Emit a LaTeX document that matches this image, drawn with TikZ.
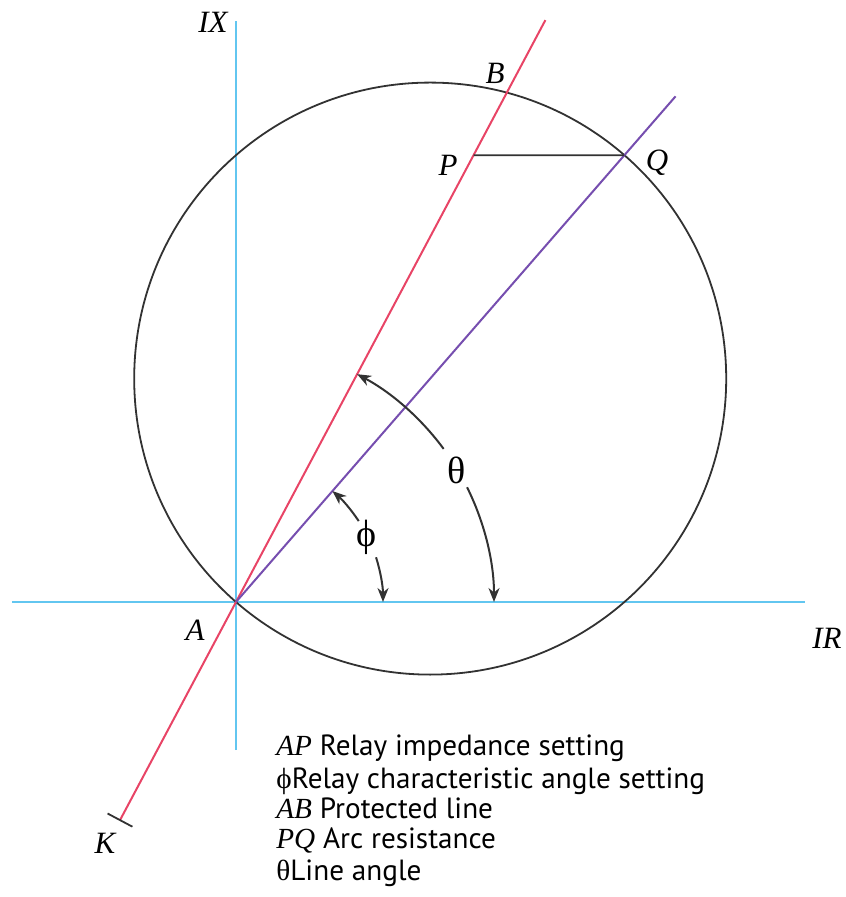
\documentclass[tikz,border=0pt]{standalone}
\usepackage{fontspec}
\setmainfont{Liberation Serif}
\newfontfamily\legfont{PT Sans}
\usetikzlibrary{arrows.meta}
\definecolor{axisblue}{RGB}{98,198,240}
\definecolor{linered}{RGB}{232,68,102}
\definecolor{lineviolet}{RGB}{118,78,175}
\definecolor{circgray}{RGB}{50,50,50}
\begin{document}
\begin{tikzpicture}[x=0.5pt,y=0.5pt,
  axis/.style={draw=axisblue, line width=1.4pt},
  redline/.style={draw=linered, line width=1pt},
  violine/.style={draw=lineviolet, line width=1pt},
  circline/.style={draw=circgray, line width=0.9pt},
  angarrow/.style={draw=circgray, line width=1pt, -{Stealth[length=7pt,width=5.5pt]}},
  lbl/.style={font=\fontsize{15.5}{18}\selectfont\itshape, inner sep=0pt},
  greek/.style={font=\fontsize{19}{20}\selectfont, inner sep=0pt},
  leg/.style={font=\legfont\fontsize{14.6}{16}\selectfont, anchor=base west, inner sep=0pt}]
\useasboundingbox (-236,-295) rectangle (609,602);
% key points
\coordinate (A) at (0,0);
\coordinate (IXtop) at (0,581);
\coordinate (IXbot) at (0,-148);
\coordinate (IRl) at (-224,0);
\coordinate (IRr) at (569,0);
\coordinate (C) at (49:296);
\coordinate (Q) at (49:592);
\coordinate (Vend) at (49:670);
\coordinate (Rtop) at (62:659);
\coordinate (K) at (242:247);
\coordinate (Kt1) at (-128.4,-211.5);
\coordinate (Kt2) at (-103.6,-224.7);
\coordinate (P) at (237.6,446.8);
\coordinate (B) at (62:577);
% axes
\draw[axis] (IXbot) -- (IXtop);
\draw[axis] (IRl) -- (IRr);
% circle
\draw[circline] (C) circle[radius=148pt];
% lines
\draw[redline] (K) -- (Rtop);
\draw[circline] (Kt1) -- (Kt2);
\draw[violine] (A) -- (Vend);
\draw[circline] (P) -- (Q);
% angle arrows
\draw[angarrow] (36.4:258) arc[start angle=36.4, end angle=62, radius=129pt];
\draw[angarrow] (26.4:258) arc[start angle=26.4, end angle=0, radius=129pt];
\draw[angarrow] (33.4:147) arc[start angle=33.4, end angle=49, radius=73.5pt];
\draw[angarrow] (17.7:147) arc[start angle=17.7, end angle=0, radius=73.5pt];
\node[greek] (theta) at (30.8:257) {θ};
\node[greek] (phi) at (26.4:146) {ϕ};
% labels
\node[lbl] (lIX) at (-23,580) {IX};
\node[lbl] (lB) at (259,529) {B};
\node[lbl] (lP) at (212,437) {P};
\node[lbl] (lQ) at (421,439) {Q};
\node[lbl] (lA) at (-41,-28) {A};
\node[lbl] (lIR) at (591,-36) {IR};
\node[lbl] (lK) at (-131,-241) {K};
% legend
\node[leg] (g1) at (40,-153) {{\normalfont\itshape AP} Relay impedance setting};
\node[leg] (g2) at (40,-186) {{\normalfont ϕ}Relay characteristic angle setting};
\node[leg] (g3) at (40,-216) {{\normalfont\itshape AB} Protected line};
\node[leg] (g4) at (40,-246) {{\normalfont\itshape PQ} Arc resistance};
\node[leg] (g5) at (40,-278) {{\normalfont θ}Line angle};
\end{tikzpicture}
\end{document}
